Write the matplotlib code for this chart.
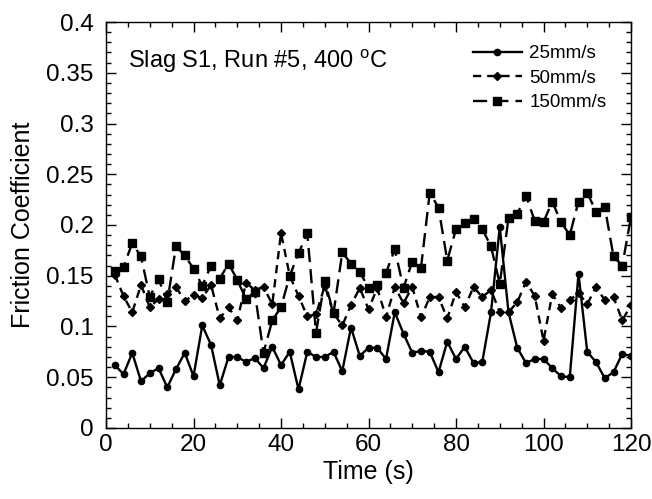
import numpy as np
import matplotlib
matplotlib.use("Agg")
import matplotlib.pyplot as plt
from matplotlib.ticker import MultipleLocator, FormatStrFormatter

plt.rcParams['font.family'] = ['Liberation Sans', 'DejaVu Sans']
plt.rcParams['mathtext.fontset'] = 'custom'
plt.rcParams['mathtext.rm'] = 'Liberation Sans'

# time (s)
t = np.arange(2, 121, 2)

# 25mm/s
v25 = [0.062, 0.053, 0.074, 0.046, 0.054, 0.059, 0.040, 0.058, 0.074, 0.051,
       0.101, 0.082, 0.042, 0.070, 0.070, 0.065, 0.069, 0.059, 0.080, 0.062,
       0.075, 0.038, 0.075, 0.070, 0.070, 0.075, 0.056, 0.099, 0.071, 0.079,
       0.079, 0.068, 0.114, 0.093, 0.074, 0.076, 0.075, 0.055, 0.085, 0.068,
       0.080, 0.064, 0.065, 0.114, 0.198, 0.114, 0.079, 0.064, 0.068, 0.068,
       0.059, 0.051, 0.050, 0.152, 0.075, 0.065, 0.049, 0.055, 0.073, 0.071]

# 50mm/s
v50 = [0.151, 0.130, 0.114, 0.141, 0.119, 0.127, 0.132, 0.139, 0.125, 0.131,
       0.128, 0.141, 0.108, 0.119, 0.106, 0.143, 0.136, 0.139, 0.122, 0.192,
       0.150, 0.130, 0.110, 0.112, 0.140, 0.113, 0.101, 0.121, 0.138, 0.117,
       0.138, 0.109, 0.139, 0.123, 0.139, 0.109, 0.129, 0.129, 0.108, 0.134,
       0.119, 0.139, 0.129, 0.136, 0.114, 0.114, 0.124, 0.144, 0.130, 0.086,
       0.132, 0.118, 0.126, 0.133, 0.122, 0.139, 0.126, 0.129, 0.106, 0.121]

# 150mm/s
v150 = [0.155, 0.159, 0.182, 0.169, 0.129, 0.147, 0.124, 0.179, 0.170, 0.157,
        0.140, 0.160, 0.147, 0.162, 0.146, 0.127, 0.134, 0.074, 0.106, 0.119,
        0.150, 0.172, 0.192, 0.094, 0.145, 0.113, 0.173, 0.162, 0.154, 0.138,
        0.141, 0.153, 0.176, 0.138, 0.164, 0.158, 0.232, 0.217, 0.165, 0.196,
        0.202, 0.206, 0.196, 0.179, 0.142, 0.207, 0.211, 0.229, 0.204, 0.203,
        0.223, 0.203, 0.190, 0.223, 0.232, 0.213, 0.218, 0.169, 0.160, 0.208]

labels = ['25mm/s', '50mm/s', '150mm/s']

fig = plt.figure(figsize=(6.52, 4.99), dpi=100)
ax = fig.add_axes([0.1626, 0.1423, 0.8052, 0.8136])

ax.plot(t, v25, '-', color='black', lw=1.7, marker='o', ms=4.5, label=labels[0])
ax.plot(t, v50, color='black', lw=1.7, marker='D', ms=4, dashes=(3.5, 2.5),
        label=labels[1])
ax.plot(t, v150, color='black', lw=1.7, marker='s', ms=5.8, dashes=(6, 3),
        label=labels[2])

ax.set_xlim(0, 120)
ax.set_ylim(0, 0.4)
ax.xaxis.set_major_locator(MultipleLocator(20))
ax.xaxis.set_minor_locator(MultipleLocator(5))
ax.yaxis.set_major_locator(MultipleLocator(0.05))
ax.yaxis.set_minor_locator(MultipleLocator(0.01))
ax.yaxis.set_major_formatter(FormatStrFormatter('%g'))

ax.tick_params(which='both', direction='in', top=True, right=True, width=1)
ax.tick_params(which='major', length=7, labelsize=17.5)
ax.tick_params(axis='y', which='major', pad=9)
ax.tick_params(axis='x', which='major', pad=4)
ax.tick_params(which='minor', length=3.5)
for s in ax.spines.values():
    s.set_linewidth(1)

ax.set_xlabel('Time (s)', fontsize=18, labelpad=3)
ax.set_ylabel('Friction Coefficient', fontsize=18, labelpad=8)

ax.text(0.042, 0.903, 'Slag S1, Run #5, 400 $^{\\rm o}$C', transform=ax.transAxes,
        fontsize=17, va='center', ha='left')

leg = ax.legend(loc='upper right', frameon=False, fontsize=13.5,
                handlelength=2.6, handletextpad=0.4, labelspacing=0.4,
                bbox_to_anchor=(0.985, 0.985))

fig.savefig('out.png', dpi=100)
